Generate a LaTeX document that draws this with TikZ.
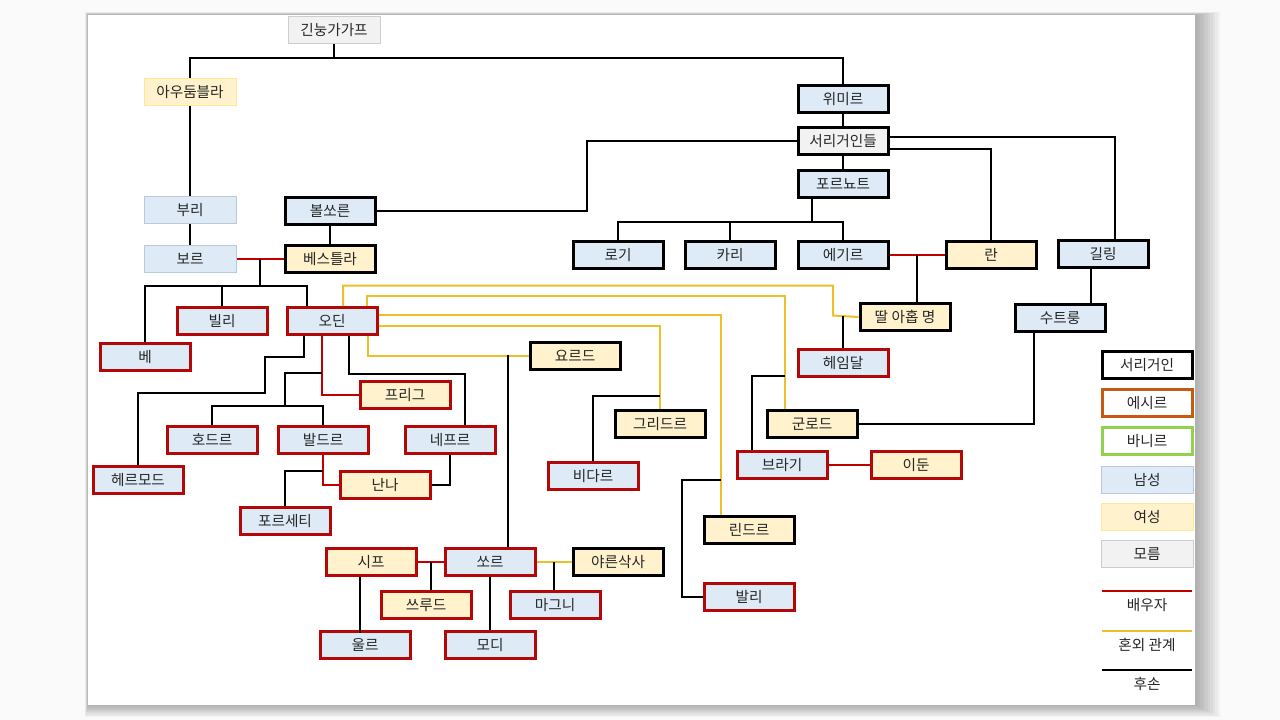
\documentclass[tikz,border=0pt]{standalone}
\usepackage{fontspec}
\newfontfamily\kr{Noto Sans CJK KR}
\usetikzlibrary{calc}

\definecolor{manblue}{RGB}{222,235,247}
\definecolor{womanyellow}{RGB}{255,242,204}
\definecolor{unkgray}{RGB}{242,242,242}
\definecolor{manedge}{RGB}{184,201,222}
\definecolor{womanedge}{RGB}{255,230,153}
\definecolor{unkedge}{RGB}{205,205,205}
\definecolor{aesirred}{RGB}{180,8,8}
\definecolor{asgardbrown}{RGB}{197,90,17}
\definecolor{vanirgreen}{RGB}{146,208,80}
\definecolor{spousered}{RGB}{192,0,0}
\definecolor{affairyellow}{RGB}{236,192,40}
\definecolor{textgray}{RGB}{38,38,38}

\begin{document}
\begin{tikzpicture}[x=0.75pt,y=-0.75pt,
	box/.style={draw,minimum width=67.5pt,minimum height=20.25pt,inner sep=0pt,text=textgray,font=\kr\fontsize{11}{12}\selectfont},
	giant/.style={box,line width=2.25pt,draw=black},
	aesir/.style={box,line width=2.25pt,draw=aesirred},
	faint/.style={box,line width=0.75pt,minimum width=69pt},
	man/.style={fill=manblue},
	woman/.style={fill=womanyellow},
	unknown/.style={fill=unkgray},
	kin/.style={line width=1.5pt},
	spouse/.style={kin,draw=spousered},
	affair/.style={kin,draw=affairyellow}]

	% slide and its shadow
	\useasboundingbox (0,0) rectangle (1280,720);
	\fill[gray!4] (0,0) rectangle (1280,720);
	\foreach \d in {1,...,10}
		\fill[black,opacity=0.03] (88-\d*0.3,15-\d*0.3) rectangle (1195+\d*2.5,705+\d*1.2);
	\fill[white] (88,15) rectangle (1195,705);

	\node[faint,unknown,draw=unkedge] (ginn) at (334,30) {긴눙가가프};
	\node[faint,woman,draw=womanedge] (audh) at (190,92) {아우둠블라};
	\node[faint,man,draw=manedge] (buri) at (190,210) {부리};
	\node[faint,man,draw=manedge] (borr) at (190,259) {보르};
	\node[giant,man] (bolth) at (330,211) {볼쏘른};
	\node[giant,woman] (best) at (330,259) {베스틀라};

	\node[giant,man] (ymir) at (843,99) {위미르};
	\node[giant,unknown] (frost) at (843,141) {서리거인들};
	\node[giant,man] (forn) at (843,184) {포르뇨트};
	\node[giant,man] (loki) at (618,255) {로기};
	\node[giant,man] (kari) at (730,255) {카리};
	\node[giant,man] (aegir) at (843,255) {에기르};
	\node[giant,woman] (ran) at (991,255) {란};
	\node[giant,man] (gill) at (1103,254) {길링};
	\node[giant,man] (sutt) at (1060,318) {수트룽};
	\node[giant,woman] (nine) at (905,317) {딸 아홉 명};
	\node[aesir,man] (heim) at (843,363) {헤임달};

	\node[aesir,man] (vili) at (222,321) {빌리};
	\node[aesir,man] (odin) at (332,321) {오딘};
	\node[aesir,man] (ve) at (145,357) {베};
	\node[aesir,woman] (frigg) at (405,395) {프리그};
	\node[aesir,man] (hodr) at (212,440) {호드르};
	\node[aesir,man] (baldr) at (323,440) {발드르};
	\node[aesir,man] (nepr) at (450,440) {네프르};
	\node[aesir,man] (hermod) at (138,480) {헤르모드};
	\node[aesir,woman] (nanna) at (385,485) {난나};
	\node[aesir,man] (forseti) at (285,521) {포르세티};

	\node[giant,woman] (jord) at (575,356) {요르드};
	\node[giant,woman] (grid) at (660,424) {그리드르};
	\node[aesir,man] (vidar) at (593,476) {비다르};
	\node[giant,woman] (gunn) at (812,424) {군로드};
	\node[aesir,man] (bragi) at (782,465) {브라기};
	\node[aesir,woman] (idun) at (916,465) {이둔};
	\node[giant,woman] (lind) at (749,530) {린드르};
	\node[aesir,man] (vali) at (749,597) {발리};

	\node[aesir,woman] (sif) at (371,562) {시프};
	\node[aesir,man] (thor) at (490,562) {쏘르};
	\node[giant,woman] (jarn) at (618,562) {야른삭사};
	\node[aesir,woman] (thrud) at (426,605) {쓰루드};
	\node[aesir,man] (magni) at (555,605) {마그니};
	\node[aesir,man] (ull) at (365,645) {울르};
	\node[aesir,man] (modi) at (490,645) {모디};

	% top of the tree
	\coordinate (j0) at (334,58);
	\draw[kin] (ginn.south) -- (j0);
	\draw[kin] (audh.north) |- (j0) -| (ymir.north);
	\draw[kin] (audh) -- (buri);
	\draw[kin] (buri) -- (borr);
	\draw[kin] (ymir) -- (frost);
	\draw[kin] (frost) -- (forn);
	\draw[kin] (frost.west) -- ++(-210,0) |- (bolth.east);
	\draw[kin] ([yshift=3pt]frost.east) -| ([xshift=9pt]gill.north);
	\draw[kin] ([yshift=-6pt]frost.east) -| (ran.north);
	\draw[kin] (bolth) -- (best);

	\draw[kin] ([xshift=-23.25pt]forn.south) -- ++(0,23.5) coordinate (jfo);
	\draw[kin] (loki.north) |- (jfo) -| (aegir.north);
	\draw[kin] (kari.north) -- (kari.north |- jfo);

	\draw[spouse] (aegir) -- (ran);
	\coordinate (ar) at ($(aegir.east)!0.5!(ran.west)$);
	\draw[kin] (ar) -- (ar |- nine.north);
	\draw[kin] ([xshift=-9pt]gill.south) -- ++(0,37);
	\draw[kin] ([xshift=-19.5pt]sutt.south) |- (gunn.east);

	% Borr and Bestla
	\draw[spouse] (borr) -- (best);
	\coordinate (bb) at ($(borr.east)!0.5!(best.west)$);
	\draw[kin] (bb) -- ++(0,27) coordinate (bb2);
	\draw[kin] (ve.north) |- (bb2) -| ([xshift=-18.75pt]odin.north);
	\draw[kin] (vili.north) -- (vili.north |- bb2);

	% Odin
	\draw[kin] ([xshift=-21pt]odin.south) -- ++(0,21) -| ++(-39,36) -| (hermod.north);
	\draw[spouse] ([xshift=-7.5pt]odin.south) |- (frigg.west);
	\coordinate (jfr) at (322,373);
	\draw[kin] (jfr) -| ++(-37,33) coordinate (jhb);
	\draw[kin] (hodr.north) |- (jhb) -| (baldr.north);
	\draw[kin] ([xshift=12.75pt]odin.south) -- ++(0,37.5) -| ([xshift=11.25pt]nepr.north);
	\draw[spouse] (baldr.south) |- (nanna.west);
	\coordinate (jfs) at (323,471);
	\draw[kin] (forseti.north) |- (jfs);
	\draw[kin] (nepr.south) |- (nanna.east);

	\draw[affair] ([xshift=8.25pt]odin.north) -- ++(0,-20.5) -| ++(490,30) -- (nine.west);
	\draw[kin] (heim.north) -- ++(0,-32.5);
	\draw[affair] ([xshift=26.25pt]odin.north) -- ++(0,-10.5) -| ([xshift=-20.25pt]gunn.north);
	\coordinate (jgb) at (785,376);
	\draw[kin] ([xshift=-22.5pt]bragi.north) |- (jgb);
	\draw[spouse] (bragi) -- (idun);
	\draw[affair] ([yshift=4.5pt]odin.east) -| ([xshift=-21pt]lind.north);
	\coordinate (jlv) at (721,480);
	\draw[kin] (vali.west) -- ++(-21,0) |- (jlv);
	\draw[affair] ([yshift=-3.75pt]odin.east) -| (grid.north);
	\coordinate (jgv) at (660,396);
	\draw[kin] (vidar.north) |- (jgv);
	\draw[affair] ([xshift=27pt]odin.south) |- (jord.west);
	\draw[kin] ([xshift=13.5pt]thor.north) -- ++(0,-192.5);

	% Thor
	\draw[spouse] (sif) -- (thor);
	\coordinate (st) at ($(sif.east)!0.5!(thor.west)$);
	\draw[kin] (st) -- (st |- thrud.north);
	\draw[kin] ([xshift=-8.25pt]sif.south) -- ++(0,56);
	\draw[kin] (thor) -- (modi);
	\draw[affair] (thor) -- (jarn);
	\coordinate (tj) at ($(thor.east)!0.5!(jarn.west)$);
	\draw[kin] (tj) -- (tj |- magni.north);

	% legend
	\node[giant,fill=white] (lgiant) at (1147,365) {서리거인};
	\node[box,line width=2.25pt,draw=asgardbrown,fill=white] (laesir) at (1147,403) {에시르};
	\node[box,line width=2.25pt,draw=vanirgreen,fill=white] (lvanir) at (1147,441) {바니르};
	\node[faint,man,draw=manedge] (lman) at (1147,480) {남성};
	\node[faint,woman,draw=womanedge] (lwoman) at (1147,517) {여성};
	\node[faint,unknown,draw=unkedge] (lunk) at (1147,554) {모름};
	\node[box,draw=none] (lspouse) at (1147,605) {배우자};
	\node[box,draw=none] (laffair) at (1147,645) {혼외 관계};
	\node[box,draw=none] (lkin) at (1147,684) {후손};
	\draw[spouse] (lspouse.north west) -- (lspouse.north east);
	\draw[affair] (laffair.north west) -- (laffair.north east);
	\draw[kin] (lkin.north west) -- (lkin.north east);

\end{tikzpicture}
\end{document}
